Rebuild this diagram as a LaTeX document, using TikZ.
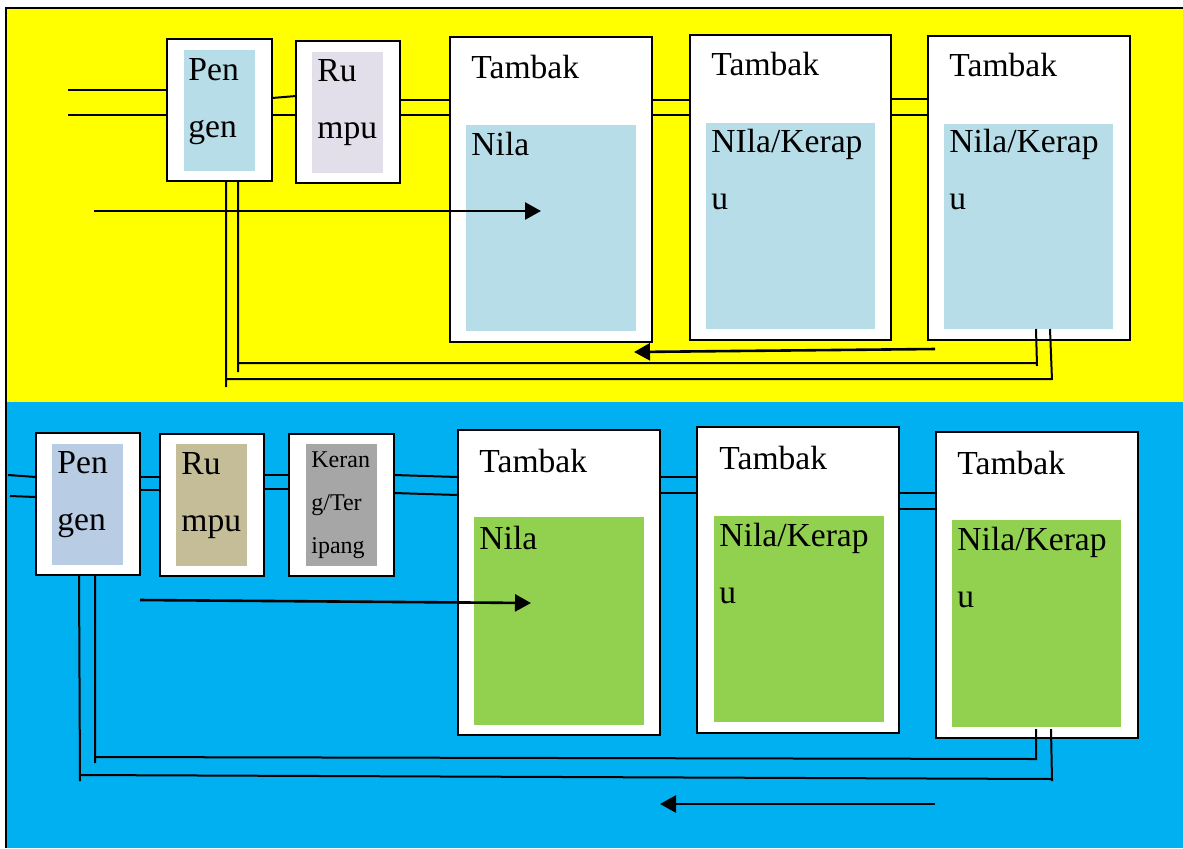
\documentclass[tikz,border=0pt]{standalone}
\usepackage{fontspec}
\setmainfont{Liberation Serif}
\usetikzlibrary{arrows.meta}

\definecolor{panelyellow}{HTML}{FFFF00}
\definecolor{panelblue}{HTML}{00B0F0}
\definecolor{pondblue}{HTML}{B7DDE8}
\definecolor{pondlilac}{HTML}{E2DEEA}
\definecolor{pondsteel}{HTML}{B8CCE4}
\definecolor{pondtan}{HTML}{C4BD97}
\definecolor{pondgray}{HTML}{A6A6A6}
\definecolor{pondgreen}{HTML}{92D050}

\begin{document}
\begin{tikzpicture}[
  x=0.5pt, y=-0.5pt,
  dims/.style 2 args={minimum width=#1*0.5pt, minimum height=#2*0.5pt},
  box/.style={draw, line width=1pt, fill=white, anchor=north west, inner sep=0pt, outer sep=0pt},
  pool/.style={anchor=north west, inner sep=0pt, outer sep=0pt},
  lbl/.style={anchor=base west, align=left, inner sep=0pt, font=\fontsize{16.8}{28.25}\selectfont},
  small/.style={lbl, font=\fontsize{12}{21.5}\selectfont},
  wire/.style={line width=1pt},
  arrow/.style={-{Triangle[length=8pt, width=8.5pt]}, line width=1.3pt},
]
  \useasboundingbox (0,0) rectangle (1183,848);
  % panels
  \fill[panelyellow] (6,8) rectangle (1183,402);
  \fill[panelblue] (6,402) rectangle (1183,848);
  \draw[line width=1pt] (6,848) -- (6,8) -- (1183,8);

  % upper row
  \node[box, dims={105}{142}] (pgA) at (167,39) {};
  \node[pool, dims={71}{121}, fill=pondblue] (pgAin) at (184,50) {};
  \node[box, dims={104}{142}] (ruA) at (296,41) {};
  \node[pool, dims={71}{121}, fill=pondlilac] (ruAin) at (312,52) {};
  \node[box, dims={202}{305}] (tbA1) at (450,37) {};
  \node[pool, dims={170}{206}, fill=pondblue] (tbA1in) at (466,125) {};
  \node[box, dims={201}{305}] (tbA2) at (690,35) {};
  \node[pool, dims={169}{206}, fill=pondblue] (tbA2in) at (706,123) {};
  \node[box, dims={202}{304}] (tbA3) at (928,36) {};
  \node[pool, dims={169}{205}, fill=pondblue] (tbA3in) at (944,124) {};

  % multi-line labels sit on the baseline of their last line
  \node[lbl] (pgAtxt) at (188,137) {Pen\\gen};
  \node[lbl] (ruAtxt) at (317,138) {Ru\\mpu};
  \node[lbl] (tbA1top) at (471,78) {Tambak};
  \node[lbl] (tbA2top) at (711,75) {Tambak};
  \node[lbl] (tbA3top) at (949,76) {Tambak};
  \node[lbl] (tbA1txt) at (471,155) {Nila};
  \node[lbl] (tbA2txt) at (711,209) {NIla/Kerap\\u};
  \node[lbl] (tbA3txt) at (949,209) {Nila/Kerap\\u};

  % lower row
  \node[box, dims={104}{142}] (pgB) at (36,433) {};
  \node[pool, dims={71}{121}, fill=pondsteel] (pgBin) at (52,444) {};
  \node[box, dims={104}{142}] (ruB) at (160,434) {};
  \node[pool, dims={71}{122}, fill=pondtan] (ruBin) at (176,444) {};
  \node[box, dims={105}{142}] (kgB) at (289,434) {};
  \node[pool, dims={71}{122}, fill=pondgray] (kgBin) at (306,444) {};
  \node[box, dims={202}{305}] (tbB1) at (458,430) {};
  \node[pool, dims={170}{208}, fill=pondgreen] (tbB1in) at (474,517) {};
  \node[box, dims={202}{306}] (tbB2) at (697,427) {};
  \node[pool, dims={170}{206}, fill=pondgreen] (tbB2in) at (714,516) {};
  \node[box, dims={202}{306}] (tbB3) at (936,432) {};
  \node[pool, dims={169}{207}, fill=pondgreen] (tbB3in) at (952,520) {};

  \node[lbl] (pgBtxt) at (57,530) {Pen\\gen};
  \node[lbl] (ruBtxt) at (181,531) {Ru\\mpu};
  \node[small] (kgBtxt) at (311,553) {Keran\\g/Ter\\ipang};
  \node[lbl] (tbB1top) at (479,472) {Tambak};
  \node[lbl] (tbB2top) at (719,469) {Tambak};
  \node[lbl] (tbB3top) at (957,474) {Tambak};
  \node[lbl] (tbB1txt) at (479,549) {Nila};
  \node[lbl] (tbB2txt) at (719,603) {Nila/Kerap\\u};
  \node[lbl] (tbB3txt) at (957,607) {Nila/Kerap\\u};

  % upper connectors
  \coordinate (inA1) at (68,90);
  \coordinate (inA2) at (68,115);
  \draw[wire] (inA1) -- (pgA.west |- inA1);
  \draw[wire] (inA2) -- (pgA.west |- inA2);
  \draw[wire] (pgA.east |- 0,98) -- (ruA.west |- 0,96);
  \draw[wire] (pgA.east |- 0,115) -- (ruA.west |- 0,115);
  \draw[wire] (ruA.east |- 0,100) -- (tbA1.west |- 0,100);
  \draw[wire] (ruA.east |- 0,115) -- (tbA1.west |- 0,115);
  \draw[wire] (tbA1.east |- 0,100) -- (tbA2.west |- 0,100);
  \draw[wire] (tbA1.east |- 0,115) -- (tbA2.west |- 0,115);
  \draw[wire] (tbA2.east |- 0,99) -- (tbA3.west |- 0,99);
  \draw[wire] (tbA2.east |- 0,115) -- (tbA3.west |- 0,115);

  \coordinate (flowA) at (94,211);
  \coordinate (flowAend) at (541,211);
  \draw[arrow] (flowA) -- (flowAend);
  \coordinate (backA) at (935,349);
  \coordinate (backAend) at (634,352);
  \draw[arrow] (backA) -- (backAend);

  \draw[wire] (pgA.south -| 238,0) -- (238,372) (238,363) -- (1037,363)
    (tbA3in.south -| 1036,0) -- (1037,366);
  \draw[wire] (pgA.south -| 226,0) -- (226,387) (226,379) -- (1052,379)
    (tbA3in.south -| 1050,0) -- (1052,380);

  % lower connectors
  \coordinate (inB1) at (8,475);
  \coordinate (inB2) at (10,496);
  \draw[wire] (inB1) -- (pgB.west |- 0,477);
  \draw[wire] (inB2) -- (pgB.west |- 0,497);
  \draw[wire] (pgB.east |- 0,477) -- (ruB.west |- 0,477);
  \draw[wire] (pgB.east |- 0,490) -- (ruB.west |- 0,490);
  \draw[wire] (ruB.east |- 0,475) -- (kgB.west |- 0,475);
  \draw[wire] (ruB.east |- 0,489) -- (kgB.west |- 0,489);
  \draw[wire] (kgB.east |- 0,475) -- (tbB1.west |- 0,477);
  \draw[wire] (kgB.east |- 0,493) -- (tbB1.west |- 0,495);
  \draw[wire] (tbB1.east |- 0,477) -- (tbB2.west |- 0,477);
  \draw[wire] (tbB1.east |- 0,493) -- (tbB2.west |- 0,493);
  \draw[wire] (tbB2.east |- 0,493) -- (tbB3.west |- 0,493);
  \draw[wire] (tbB2.east |- 0,509) -- (tbB3.west |- 0,509);

  \coordinate (flowB) at (140,600);
  \coordinate (flowBend) at (531,603);
  \draw[arrow] (flowB) -- (flowBend);
  \coordinate (backB) at (935,804);
  \coordinate (backBend) at (660,804);
  \draw[arrow] (backB) -- (backBend);

  \draw[wire] (pgB.south -| 95,0) -- (95,763) (95,757) -- (1037,759)
    (tbB3.south -| 1036,0) ++(0,-9) -- (1036,760);
  \draw[wire] (pgB.south -| 79,0) -- (80,781) (80,775) -- (1053,779)
    (tbB3.south -| 1051,0) ++(0,-9) -- (1052,781);
\end{tikzpicture}
\end{document}
